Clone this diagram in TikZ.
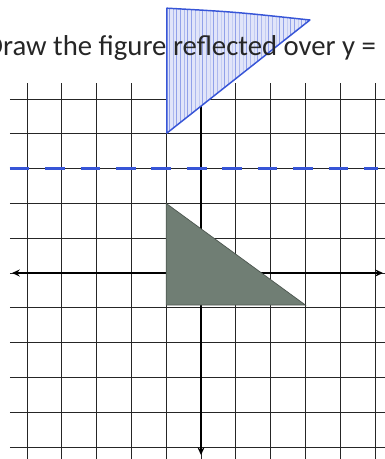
\documentclass[tikz,border=0pt]{standalone}
\usepackage{fontspec}
\setmainfont{Carlito}
\usetikzlibrary{arrows.meta,patterns}
\definecolor{penblue}{RGB}{55,85,215}
\definecolor{shade}{RGB}{112,126,116}

\begin{document}
\begin{tikzpicture}[
  gridline/.style={line width=0.8pt, black!85},
  axis/.style={line width=1.8pt, {Stealth[length=2.2mm,width=2mm]}-{Stealth[length=2.2mm,width=2mm]}},
  mirror/.style={penblue, line width=1.8pt, dash pattern=on 16pt off 13pt},
  given/.style={fill=shade, draw=shade!70!black, line width=0.6pt},
  image/.style={draw=penblue, line width=1.2pt, line join=round}]
  \useasboundingbox (-5.776,-5.345) rectangle (5.287,7.845);
  % grid
  \foreach \x in {-5,...,5}
    \draw[gridline] (\x,-5.4) -- (\x,5.46);
  \foreach \y in {-5,...,5}
    \draw[gridline] (-5.49,\y) -- (5.3,\y);
  % axes
  \draw[axis] (-5.43,0) -- (5.23,0);
  \draw[axis] (0,-5.23) -- (0,5.37);
  % given figure
  \draw[given] (-1,2) -- (-1,-0.92) -- (3,-0.92) -- cycle;
  % line of reflection
  \draw[mirror] (-5.5,3) -- (5.1,3);
  % reflected figure
  \fill[penblue!15] (-0.98,7.61) .. controls (1,7.5) .. (3.13,7.27) -- (-0.98,4.02) -- cycle;
  \fill[pattern=vertical lines, pattern color=penblue!55] (-0.98,7.61) .. controls (1,7.5) .. (3.13,7.27) -- (-0.98,4.02) -- cycle;
  \draw[image] (-0.98,7.61) .. controls (1,7.5) .. (3.13,7.27) -- (-0.98,4.02) -- cycle;
  \node[font=\fontsize{23.5}{27}\selectfont, anchor=base west, inner sep=0pt, text=black!85] (title)
    at (-6.2,6.26) {Draw the figure reflected over y =};
\end{tikzpicture}
\end{document}
